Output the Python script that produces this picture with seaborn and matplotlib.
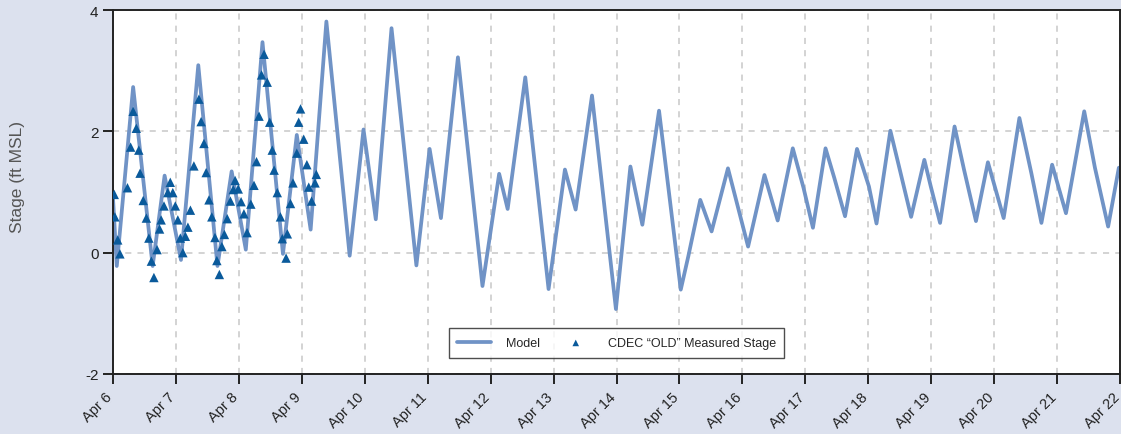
import pandas as pd
import seaborn as sns
import matplotlib.pyplot as plt
import matplotlib.dates as mdates
import matplotlib.transforms as mtransforms

# Model stage (days after Apr 6, ft MSL)
model_days = [0.0, 0.06, 0.32, 0.63, 0.82, 1.08, 1.355, 1.66, 1.885, 2.11, 2.375, 2.70,
              2.92, 3.14, 3.39, 3.76, 3.98, 4.175, 4.425, 4.82, 5.03, 5.21, 5.48, 5.87,
              6.135, 6.27, 6.55, 6.92, 7.18, 7.35, 7.61, 7.99, 8.22, 8.41, 8.675, 9.02,
              9.14, 9.33, 9.51, 9.77, 10.09, 10.35, 10.56, 10.80, 10.97, 11.12, 11.32,
              11.46, 11.63, 11.82, 12.01, 12.13, 12.35, 12.49, 12.68, 12.89, 12.99, 13.14,
              13.37, 13.52, 13.71, 13.90, 14.15, 14.40, 14.59, 14.75, 14.92, 15.14, 15.43,
              15.60, 15.81, 15.98, 16.06]
model_stage = [0.90, -0.22, 2.73, -0.22, 1.27, -0.12, 3.09, -0.22, 1.34, 0.05, 3.47, -0.02,
               1.94, 0.38, 3.81, -0.05, 2.03, 0.55, 3.70, -0.21, 1.71, 0.57, 3.22, -0.55,
               1.30, 0.72, 2.89, -0.60, 1.37, 0.71, 2.59, -0.93, 1.42, 0.46, 2.34, -0.61,
               -0.06, 0.87, 0.35, 1.39, 0.10, 1.28, 0.53, 1.72, 1.07, 0.41, 1.72,
               1.23, 0.60, 1.71, 1.09, 0.48, 2.01, 1.41, 0.59, 1.53, 1.10, 0.49,
               2.08, 1.37, 0.52, 1.49, 0.57, 2.22, 1.31, 0.49, 1.45, 0.65, 2.33,
               1.40, 0.43, 1.40, 1.20]

# CDEC "OLD" measured stage
obs_days = [0.02, 0.03, 0.075, 0.11, 0.23, 0.28, 0.32, 0.37, 0.41, 0.43, 0.48, 0.53, 0.57,
            0.61, 0.65, 0.70, 0.74, 0.765, 0.81, 0.87, 0.91, 0.95, 0.99, 1.03, 1.07, 1.11,
            1.15, 1.19, 1.23, 1.285, 1.365, 1.40, 1.445, 1.48, 1.525, 1.57, 1.62, 1.65,
            1.69, 1.73, 1.77, 1.815, 1.865, 1.91, 1.94, 1.99, 2.035, 2.08, 2.13, 2.19,
            2.24, 2.28, 2.32, 2.36, 2.40, 2.45, 2.49, 2.53, 2.56, 2.61, 2.66, 2.69, 2.75,
            2.77, 2.82, 2.86, 2.92, 2.95, 2.98, 3.03, 3.08, 3.11, 3.155, 3.21, 3.23]
obs_stage = [0.96, 0.59, 0.21, -0.02, 1.07, 1.74, 2.33, 2.05, 1.69, 1.31, 0.86, 0.57, 0.24,
             -0.14, -0.41, 0.05, 0.39, 0.54, 0.77, 0.99, 1.16, 0.99, 0.77, 0.54, 0.24, 0.00,
             0.27, 0.42, 0.70, 1.43, 2.53, 2.16, 1.80, 1.32, 0.87, 0.59, 0.25, -0.13,
             -0.36, 0.10, 0.30, 0.56, 0.85, 1.04, 1.19, 1.05, 0.84, 0.64, 0.33, 0.80,
             1.11, 1.50, 2.25, 2.93, 3.27, 2.81, 2.15, 1.69, 1.36, 0.99, 0.59, 0.23, -0.09,
             0.31, 0.81, 1.15, 1.64, 2.15, 2.37, 1.87, 1.45, 1.08, 0.85, 1.15, 1.29]

start = pd.Timestamp("2016-04-06")
model = pd.DataFrame({"time": start + pd.to_timedelta(model_days, unit="D"), "stage": model_stage})
obs = pd.DataFrame({"time": start + pd.to_timedelta(obs_days, unit="D"), "stage": obs_stage})

sns.set_style("white")
plt.rcParams["font.family"] = ["Liberation Sans", "DejaVu Sans"]
plt.rcParams["axes.unicode_minus"] = False

fig = plt.figure(figsize=(11.21, 4.35), dpi=100, facecolor="#dce1ee")
ax = fig.add_axes([0.1008, 0.138, 0.8984, 0.8367])
ax.set_facecolor("white")

sns.lineplot(data=model, x="time", y="stage", ax=ax, color="#7093c6", lw=2.7,
             label="Model", zorder=2, solid_joinstyle="round")
sns.scatterplot(data=obs, x="time", y="stage", ax=ax, marker="^", color="#0a5a9b",
                s=46, edgecolor="none", label="CDEC \u201cOLD\u201d Measured Stage", zorder=3)

ax.set_xlim(start, start + pd.Timedelta(days=16))
ax.set_ylim(-2, 4)
ax.set_yticks([-2, 0, 2, 4])
ax.xaxis.set_major_locator(mdates.DayLocator())
ax.xaxis.set_major_formatter(mdates.DateFormatter("%b %-d"))
ax.grid(True, color="#c8c8c8", ls=(0, (4, 4)), lw=1.1)

for s in ax.spines.values():
    s.set_color("#222222")
    s.set_linewidth(1.4)
ax.tick_params(axis="both", direction="out", length=7, width=1.4, color="#222222",
               labelsize=11, labelcolor="#222222", left=True, bottom=True)
ax.tick_params(axis="x", labelsize=10.5, pad=4)
shift = mtransforms.ScaledTranslation(-8 / 100, 0, fig.dpi_scale_trans)
for lab in ax.get_xticklabels():
    lab.set_rotation(45)
    lab.set_ha("right")
    lab.set_rotation_mode("anchor")
    lab.set_transform(lab.get_transform() + shift)

ax.set_xlabel("")
ax.set_ylabel("Stage (ft MSL)", fontsize=12.5, color="#555555")
ax.yaxis.set_label_coords(-0.087, 0.545)

leg = ax.legend(loc="lower center", bbox_to_anchor=(0.5, 0.044), borderaxespad=0, ncol=2,
                frameon=True, fancybox=False, edgecolor="#222222", fontsize=9,
                handlelength=2.7, columnspacing=1.5, borderpad=0.7, handletextpad=1.2,
                markerscale=0.7)
leg.get_frame().set_linewidth(1.0)

fig.savefig("out.png", dpi=100, facecolor=fig.get_facecolor())
